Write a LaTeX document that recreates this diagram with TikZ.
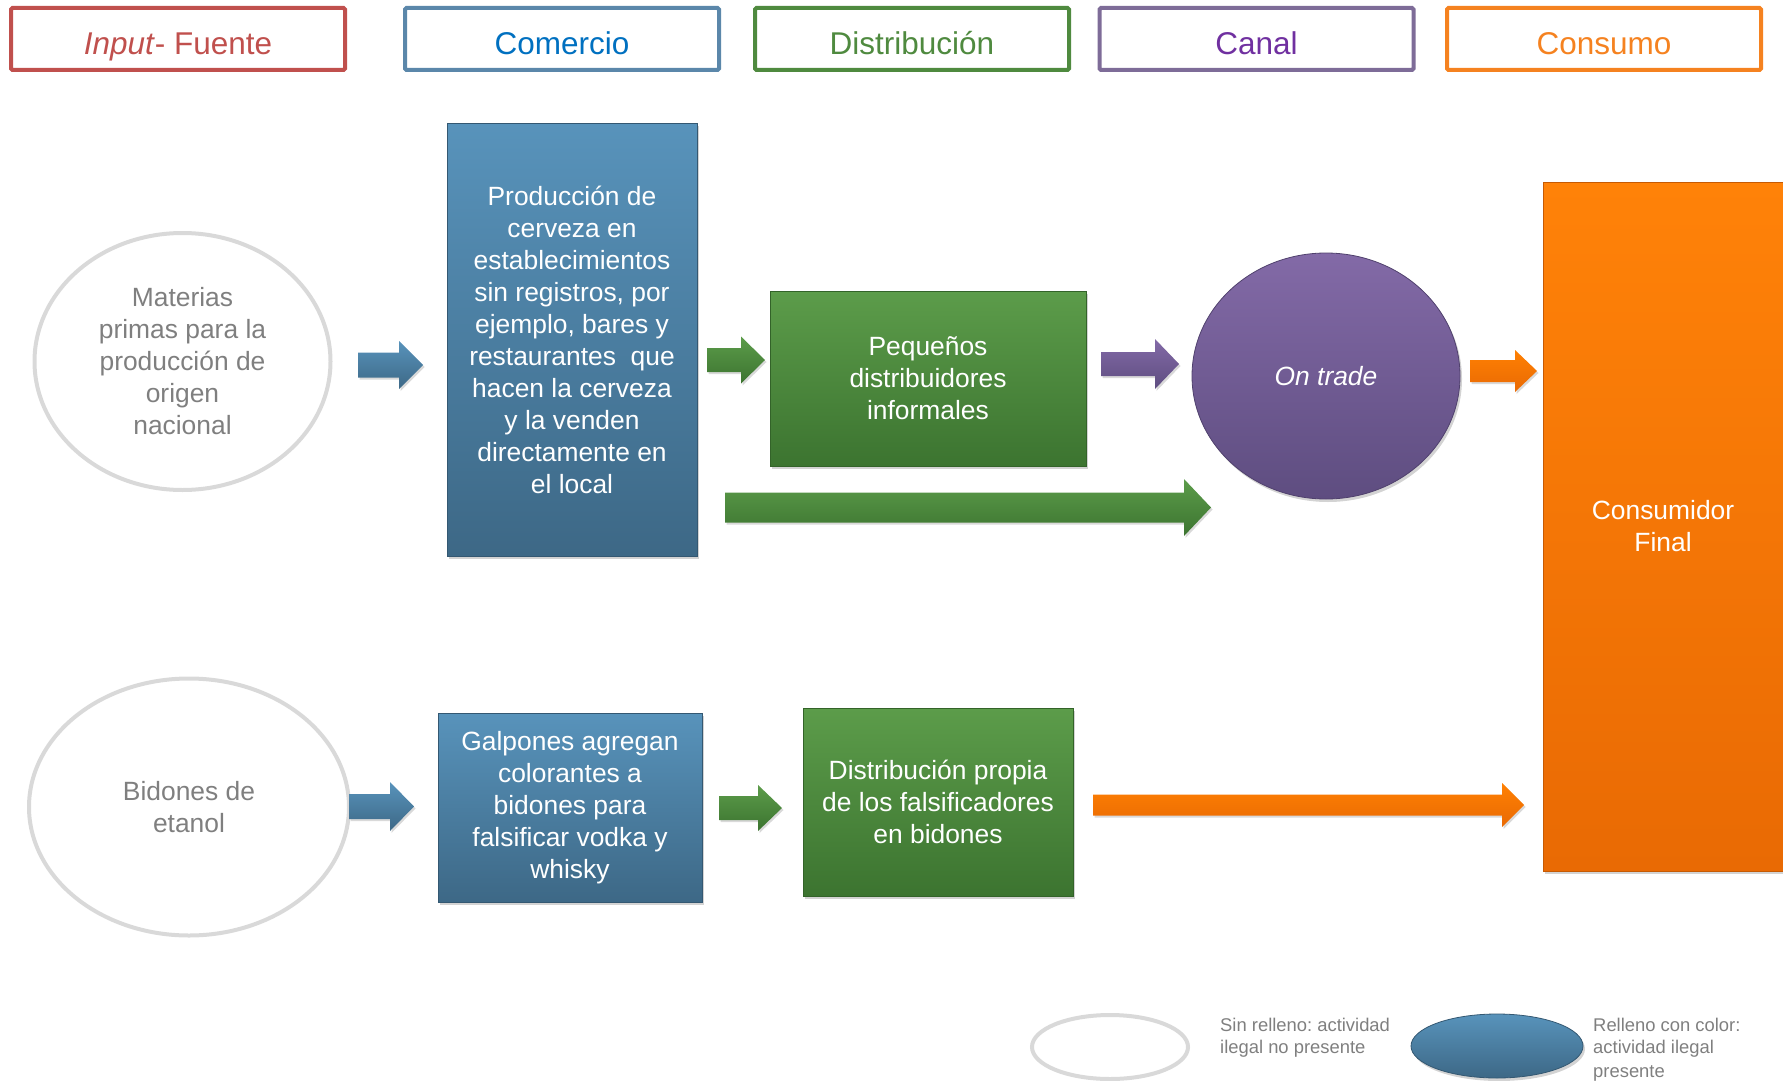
\documentclass[tikz,border=0pt]{standalone}
\usepackage{fontspec}
\setmainfont{Liberation Sans}
\frenchspacing
\usepackage{tikz}
\usetikzlibrary{shapes.geometric, shadows}

\definecolor{hdrred}{HTML}{C0504D}
\definecolor{hdrblue}{HTML}{5B87AA}
\definecolor{txtblue}{HTML}{0070C0}
\definecolor{hdrgreen}{HTML}{4F8A3F}
\definecolor{hdrpurple}{HTML}{7E6C98}
\definecolor{txtpurple}{HTML}{7030A0}
\definecolor{hdrorange}{HTML}{F58220}
\definecolor{bluetop}{HTML}{5893BB}
\definecolor{bluebot}{HTML}{3D6886}
\definecolor{greentop}{HTML}{5C9C4A}
\definecolor{greenbot}{HTML}{3C7430}
\definecolor{purpletop}{HTML}{836AA7}
\definecolor{purplebot}{HTML}{5E4D80}
\definecolor{orangetop}{HTML}{FF8208}
\definecolor{orangebot}{HTML}{E96A04}
\definecolor{ringgray}{HTML}{D9D9D9}
\definecolor{txtgray}{HTML}{7F7F7F}

% block arrow: style, tail x, tip x, y, shaft half, head half, head length
\newcommand{\blkarrow}[7]{%
\shade[#1, drop shadow={shadow xshift=1.5pt, shadow yshift=-2pt, opacity=.3}]
 (#2,#4-#5) -- (#3-#7,#4-#5) -- (#3-#7,#4-#6) -- (#3,#4) -- (#3-#7,#4+#6)
 -- (#3-#7,#4+#5) -- (#2,#4+#5) -- cycle;}

\begin{document}
\begin{tikzpicture}[x=1pt, y=-1pt,
  hdr/.style={draw, line width=4pt, rounded corners=1.5pt, minimum width=314pt,
    minimum height=62pt, text height=31pt, text depth=0pt,
    font=\fontsize{31.5}{36}\selectfont},
  filled/.style={draw=#1bot!85!black, line width=.8pt, top color=#1top, bottom color=#1bot,
    text=white, align=center, font=\fontsize{26.4}{32}\selectfont,
    drop shadow={shadow xshift=2pt, shadow yshift=-3pt, opacity=.35}},
  ring/.style={ellipse, draw=ringgray, line width=4pt, text=txtgray, align=center,
    font=\fontsize{26.4}{32}\selectfont},
  legend/.style={anchor=north west, inner sep=0pt, text=txtgray, align=left,
    font=\fontsize{18.4}{22}\selectfont},
  arrblue/.style={top color=bluetop, bottom color=bluebot},
  arrgreen/.style={top color=greentop, bottom color=greenbot},
  arrpurple/.style={top color=purpletop, bottom color=purplebot},
  arrorange/.style={top color=orange!70!orangetop, bottom color=orangebot}]
\useasboundingbox (0,0) rectangle (1783,1081);

% column headers
\node[hdr, draw=hdrred, text=hdrred, minimum width=334pt] (hfuente) at (178,39) {\textit{Input}- Fuente};
\node[hdr, draw=hdrblue, text=txtblue] (hcomercio) at (562,39) {Comercio};
\node[hdr, draw=hdrgreen, text=hdrgreen] (hdistrib) at (912,39) {Distribución};
\node[hdr, draw=hdrpurple, text=txtpurple] (hcanal) at (1256.5,39) {Canal};
\node[hdr, draw=hdrorange, text=hdrorange] (hconsumo) at (1604,39) {Consumo};

% consumer
\node[filled=orange, minimum width=240pt, minimum height=689pt] (consumidor) at (1663,526.5) {Consumidor\\Final};

% first chain
\node[ring, minimum width=296pt, minimum height=257pt] (materias) at (182.5,361.5)
  {Materias\\primas para la\\producción de\\origen\\nacional};
\node[filled=blue, minimum width=250pt, minimum height=433pt] (cerveza) at (572,339.5)
  {Producción de\\cerveza en\\establecimientos\\sin registros, por\\ejemplo, bares y\\restaurantes\ \ que\\hacen la cerveza\\y la venden\\directamente en\\el local};
\node[filled=green, minimum width=316pt, minimum height=175pt] (pequenos) at (928,378.5)
  {Pequeños\\distribuidores\\informales};
\node[ellipse, filled=purple, minimum width=268pt, minimum height=246pt] (ontrade) at (1326,376)
  {\textit{On trade}};

\blkarrow{arrblue}{358}{423}{365}{12.5}{24}{24}
\blkarrow{arrgreen}{707}{765}{360}{12}{23.5}{24}
\blkarrow{arrpurple}{1101}{1179}{364}{12}{25}{24}
\blkarrow{arrorange}{1470}{1537}{371}{11}{21}{22}
\blkarrow{arrgreen}{725}{1211}{507.5}{15}{28.5}{27}

% second chain
\node[ring, minimum width=320pt, minimum height=257pt] (bidones) at (189,807)
  {Bidones de\\etanol};
\node[filled=blue, minimum width=264pt, minimum height=189pt] (galpones) at (570,807.5)
  {Galpones agregan\\colorantes a\\bidones para\\falsificar vodka y\\whisky};
\node[filled=green, minimum width=270pt, minimum height=188pt] (propia) at (938,802)
  {Distribución propia\\de los falsificadores\\en bidones};

\blkarrow{arrblue}{349}{414}{806.5}{12.5}{24.5}{24}
\blkarrow{arrgreen}{719}{782}{808}{12}{23}{24}
\blkarrow{arrorange}{1093}{1524}{805}{10.5}{22}{22}

% legend
\node[ellipse, draw=ringgray, line width=4pt, minimum width=156pt, minimum height=64pt] (sinrelleno) at (1110,1047) {};
\node[legend] (sintxt) at (1220,1018) {Sin relleno: actividad\\ilegal no presente};
\node[ellipse, filled=blue, minimum width=172pt, minimum height=64pt] (conrelleno) at (1497,1046) {};
\node[legend] (contxt) at (1593,1018) {Relleno con color:\\actividad ilegal\\[2pt]presente};
\end{tikzpicture}
\end{document}
